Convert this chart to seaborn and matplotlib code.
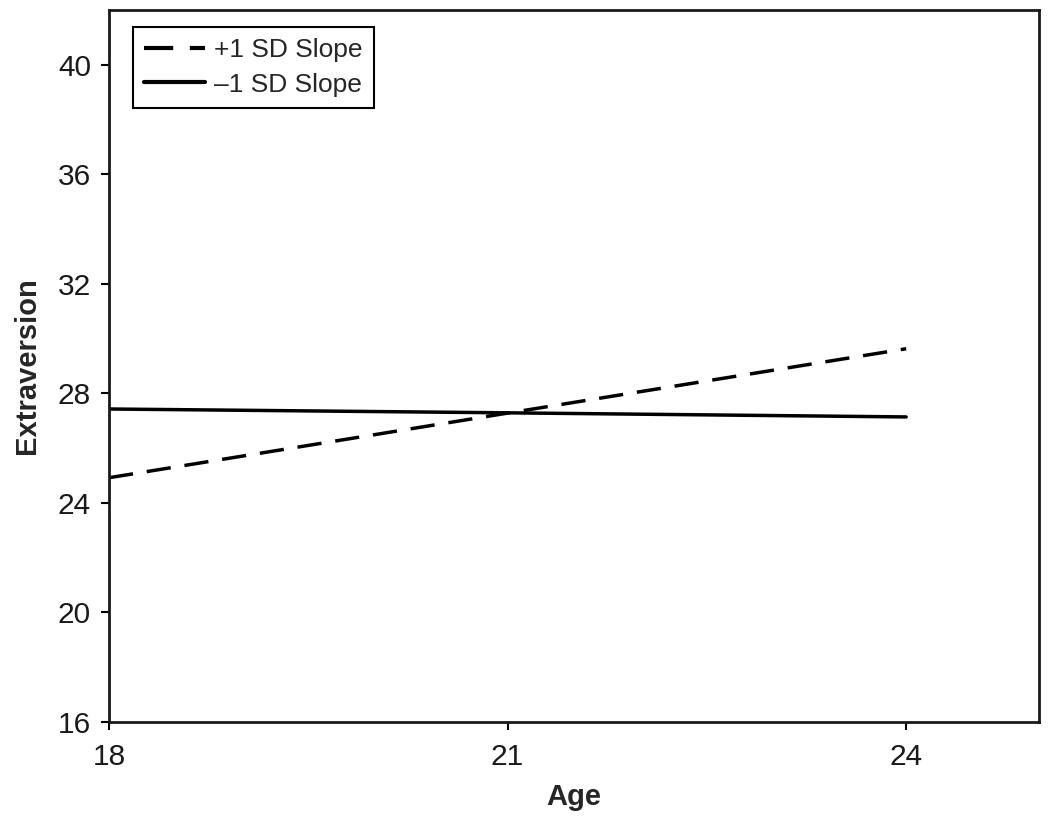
import matplotlib
matplotlib.use("Agg")
import matplotlib.pyplot as plt
import seaborn as sns
import pandas as pd

# Data
age = [18, 21, 24]
plus_sd = [24.92, 27.28, 29.63]
minus_sd = [27.43, 27.29, 27.14]
labels = ["+1 SD Slope", "\u20131 SD Slope"]
y_ticks = [16, 20, 24, 28, 32, 36, 40]
x_ticks = [18, 21, 24]

data = pd.DataFrame({"Age": age, "plus": plus_sd, "minus": minus_sd})

sns.set_style("white")
plt.rcParams["font.family"] = ["Liberation Sans", "DejaVu Sans"]

fig = plt.figure(figsize=(10.5, 8.22), dpi=100)
ax = fig.add_axes([109 / 1050, 100 / 822, 930 / 1050, 712 / 822])

sns.lineplot(data=data, x="Age", y="plus", ax=ax, color="black",
             linewidth=2.5, label=labels[0])
sns.lineplot(data=data, x="Age", y="minus", ax=ax, color="black",
             linewidth=2.5, label=labels[1])
ax.lines[0].set_dashes((7, 4))

ax.set_xlim(18, 25)
ax.set_ylim(16, 42)
ax.set_xticks(x_ticks)
ax.set_yticks(y_ticks)

ax.tick_params(axis="both", direction="out", length=6, width=1.5,
               labelsize=21.5, color="black", labelcolor="#1a1a1a",
               left=True, bottom=True)
ax.tick_params(axis="y", pad=7)
ax.tick_params(axis="x", pad=9)

for s in ax.spines.values():
    s.set_color("#1a1a1a")
    s.set_linewidth(2)

ax.set_xlabel("Age", fontsize=21, fontweight="bold", labelpad=9)
ax.set_ylabel("Extraversion", fontsize=21, fontweight="bold", labelpad=12)

leg = ax.legend(loc="upper left", bbox_to_anchor=(24 / 930, 1 - 17 / 712),
                borderaxespad=0, fontsize=19, frameon=True, fancybox=False,
                handlelength=2.3, handletextpad=0.35, borderpad=0.42,
                labelspacing=0.4)
leg.get_frame().set_edgecolor("black")
leg.get_frame().set_linewidth(1.5)
leg.get_frame().set_alpha(1)
for line in leg.get_lines():
    line.set_linewidth(3)

fig.savefig("out.png", dpi=100)
